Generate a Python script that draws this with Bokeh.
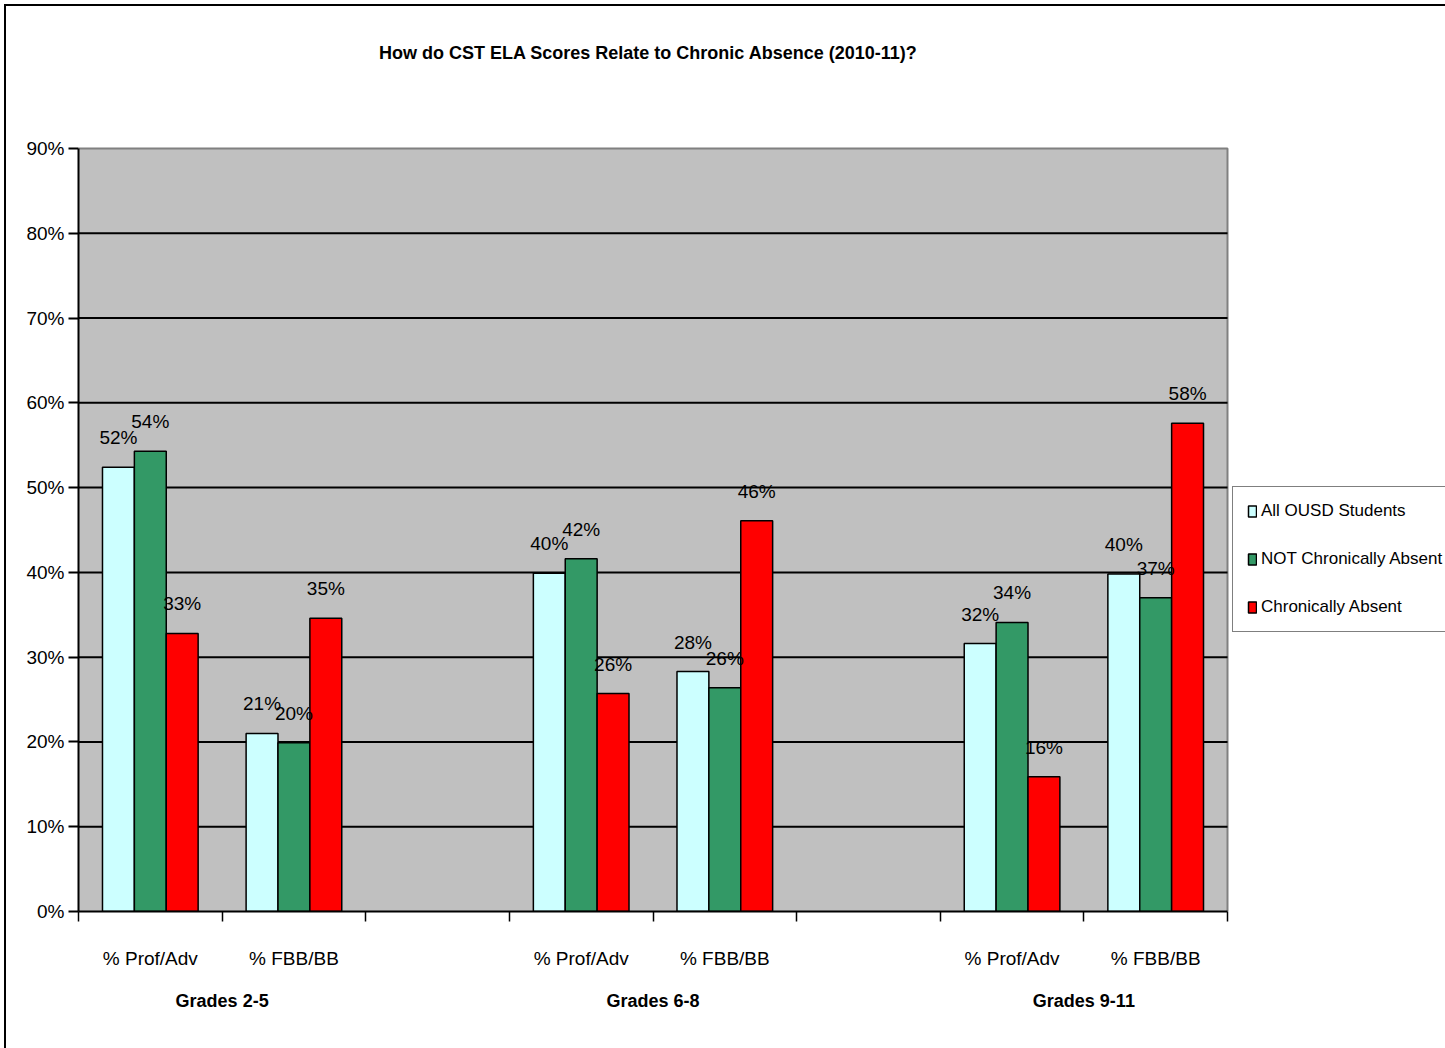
from bokeh.plotting import figure
from bokeh.models import (ColumnDataSource, FixedTicker, LinearAxis, Range1d,
                          Legend, LegendItem, Label, InlineStyleSheet)
from bokeh.core.properties import value
from bokeh.embed import file_html
from bokeh.resources import INLINE

# Chart data
title_text = "How do CST ELA Scores Relate to Chronic Absence (2010-11)?"
groups = ["Grades 2-5", "Grades 6-8", "Grades 9-11"]
measures = ["% Prof/Adv", "% FBB/BB"]
series = ["All OUSD Students", "NOT Chronically Absent", "Chronically Absent"]

all_ousd = [52.4, 21.0, 39.9, 28.3, 31.6, 39.8]
not_chronic = [54.3, 19.9, 41.6, 26.4, 34.1, 37.0]
chronic = [32.8, 34.6, 25.7, 46.1, 15.9, 57.6]

colors = ["#CCFFFF", "#339966", "#FF0000"]
yticks = [0, 10, 20, 30, 40, 50, 60, 70, 80, 90]
Y_MAX = 90
N_SLOTS = 8

FONT = "Liberation Sans"

# Page geometry (pixels)
W, H = 1445, 1048
AREA_L, AREA_R = 78, 1227      # plot area left/right
AREA_T, AREA_B = 148, 911      # plot area top/bottom
TITLE_X, TITLE_Y = 648, 52     # title centre

px_per_slot = (AREA_R - AREA_L) / N_SLOTS
px_per_pct = (AREA_B - AREA_T) / Y_MAX
x_end = (W - AREA_L) / px_per_slot
y_end = AREA_B / px_per_pct    # frame reaches the top of the page

# Each group has two measure slots followed by one empty slot
slot_centers = []
for gi in range(len(groups)):
    for mi in range(len(measures)):
        slot_centers.append(gi * 3 + mi + 0.5)
group_centers = [gi * 3 + 1.0 for gi in range(len(groups))]
boundaries = list(range(0, N_SLOTS + 1))

bar_w = 0.222
offsets = [-bar_w, 0.0, bar_w]

p = figure(width=W, height=H, output_backend="svg", toolbar_location=None,
           x_range=Range1d(0, x_end), y_range=Range1d(0, y_end),
           min_border_left=AREA_L, min_border_right=0,
           min_border_top=0, min_border_bottom=H - AREA_B,
           background_fill_color="white", border_fill_color="white",
           x_axis_type=None, y_axis_type=None)
p.outline_line_color = None
p.stylesheets = [InlineStyleSheet(css="""
:host::after {
  content: "";
  position: absolute;
  left: 4px; top: 4px; width: 1460px; height: 1060px;
  border: 2px solid black;
  pointer-events: none;
  z-index: 100;
}
""")]

# title
p.add_layout(Label(x=(TITLE_X - AREA_L) / px_per_slot, y=(AREA_B - TITLE_Y) / px_per_pct,
                   text=title_text, text_align="center", text_baseline="middle",
                   text_font=FONT, text_font_size="18px", text_font_style="bold",
                   text_color="black"))

# plot area: gray fill with a gray border on top and right
p.quad(left=[0], right=[N_SLOTS], bottom=[0], top=[Y_MAX],
       fill_color="#C0C0C0", line_color=None)
p.line(x=[0, N_SLOTS, N_SLOTS], y=[Y_MAX, Y_MAX, 0], line_color="#808080", line_width=2)

# horizontal gridlines (black)
for t in yticks[1:-1]:
    p.line(x=[0, N_SLOTS], y=[t, t], line_color="black", line_width=2)

# y axis
yax = LinearAxis(ticker=FixedTicker(ticks=yticks), bounds=(0, Y_MAX),
                 major_label_overrides={t: f"{t}%" for t in yticks})
yax.axis_line_color = "black"
yax.axis_line_width = 2
yax.major_tick_line_color = "black"
yax.major_tick_line_width = 2
yax.major_tick_out = 10
yax.major_tick_in = 0
yax.minor_tick_line_color = None
yax.major_label_text_font = FONT
yax.major_label_text_font_size = "19px"
yax.major_label_text_color = "black"
yax.major_label_standoff = 4
p.add_layout(yax, "left")

# x axis: boundary tick marks as minor ticks, measure labels at slot centers
xax = LinearAxis(ticker=FixedTicker(ticks=slot_centers, minor_ticks=boundaries),
                 bounds=(0, N_SLOTS),
                 major_label_overrides={c: measures[i % 2] for i, c in enumerate(slot_centers)})
xax.axis_line_color = "black"
xax.axis_line_width = 2
xax.major_tick_line_color = None
xax.major_tick_out = 0
xax.major_tick_in = 0
xax.minor_tick_line_color = "black"
xax.minor_tick_line_width = 1.5
xax.minor_tick_out = 10
xax.minor_tick_in = 0
xax.major_label_text_font = FONT
xax.major_label_text_font_size = "19px"
xax.major_label_text_color = "black"
xax.major_label_standoff = 26
p.add_layout(xax, "below")

gax = LinearAxis(ticker=FixedTicker(ticks=group_centers),
                 major_label_overrides={c: groups[i] for i, c in enumerate(group_centers)})
gax.axis_line_color = None
gax.major_tick_line_color = None
gax.minor_tick_line_color = None
gax.major_label_text_font = FONT
gax.major_label_text_font_size = "18px"
gax.major_label_text_font_style = "bold"
gax.major_label_text_color = "black"
gax.major_label_standoff = 13
p.add_layout(gax, "below")

# bars and their value labels
renderers = []
all_series = [all_ousd, not_chronic, chronic]
for si, vals in enumerate(all_series):
    xs = [c + offsets[si] for c in slot_centers]
    src = ColumnDataSource(dict(x=xs, top=vals))
    r = p.vbar(x="x", top="top", width=bar_w, bottom=0, source=src,
               fill_color=colors[si], line_color="black", line_width=1.5)
    renderers.append(r)
for si, vals in enumerate(all_series):
    xs = [c + offsets[si] for c in slot_centers]
    src = ColumnDataSource(dict(x=xs, y=vals,
                                lbl=[f"{round(v):.0f}%" for v in vals]))
    p.text(x="x", y="y", text="lbl", source=src, text_align="center",
           text_baseline="bottom", y_offset=-19, text_font=value(FONT),
           text_font_size="19px", text_color="black")

legend = Legend(items=[LegendItem(label=s, renderers=[r]) for s, r in zip(series, renderers)],
                location=(1232 - AREA_L, AREA_B - 632), orientation="vertical",
                label_text_font=FONT, label_text_font_size="17px",
                label_text_color="black", label_height=20,
                glyph_width=10, glyph_height=14,
                label_standoff=4, spacing=28, padding=14, margin=0,
                border_line_color="black", border_line_width=1.5,
                background_fill_color="white", background_fill_alpha=1)
p.add_layout(legend, "center")

open("out.html", "w").write(file_html(p, INLINE))
